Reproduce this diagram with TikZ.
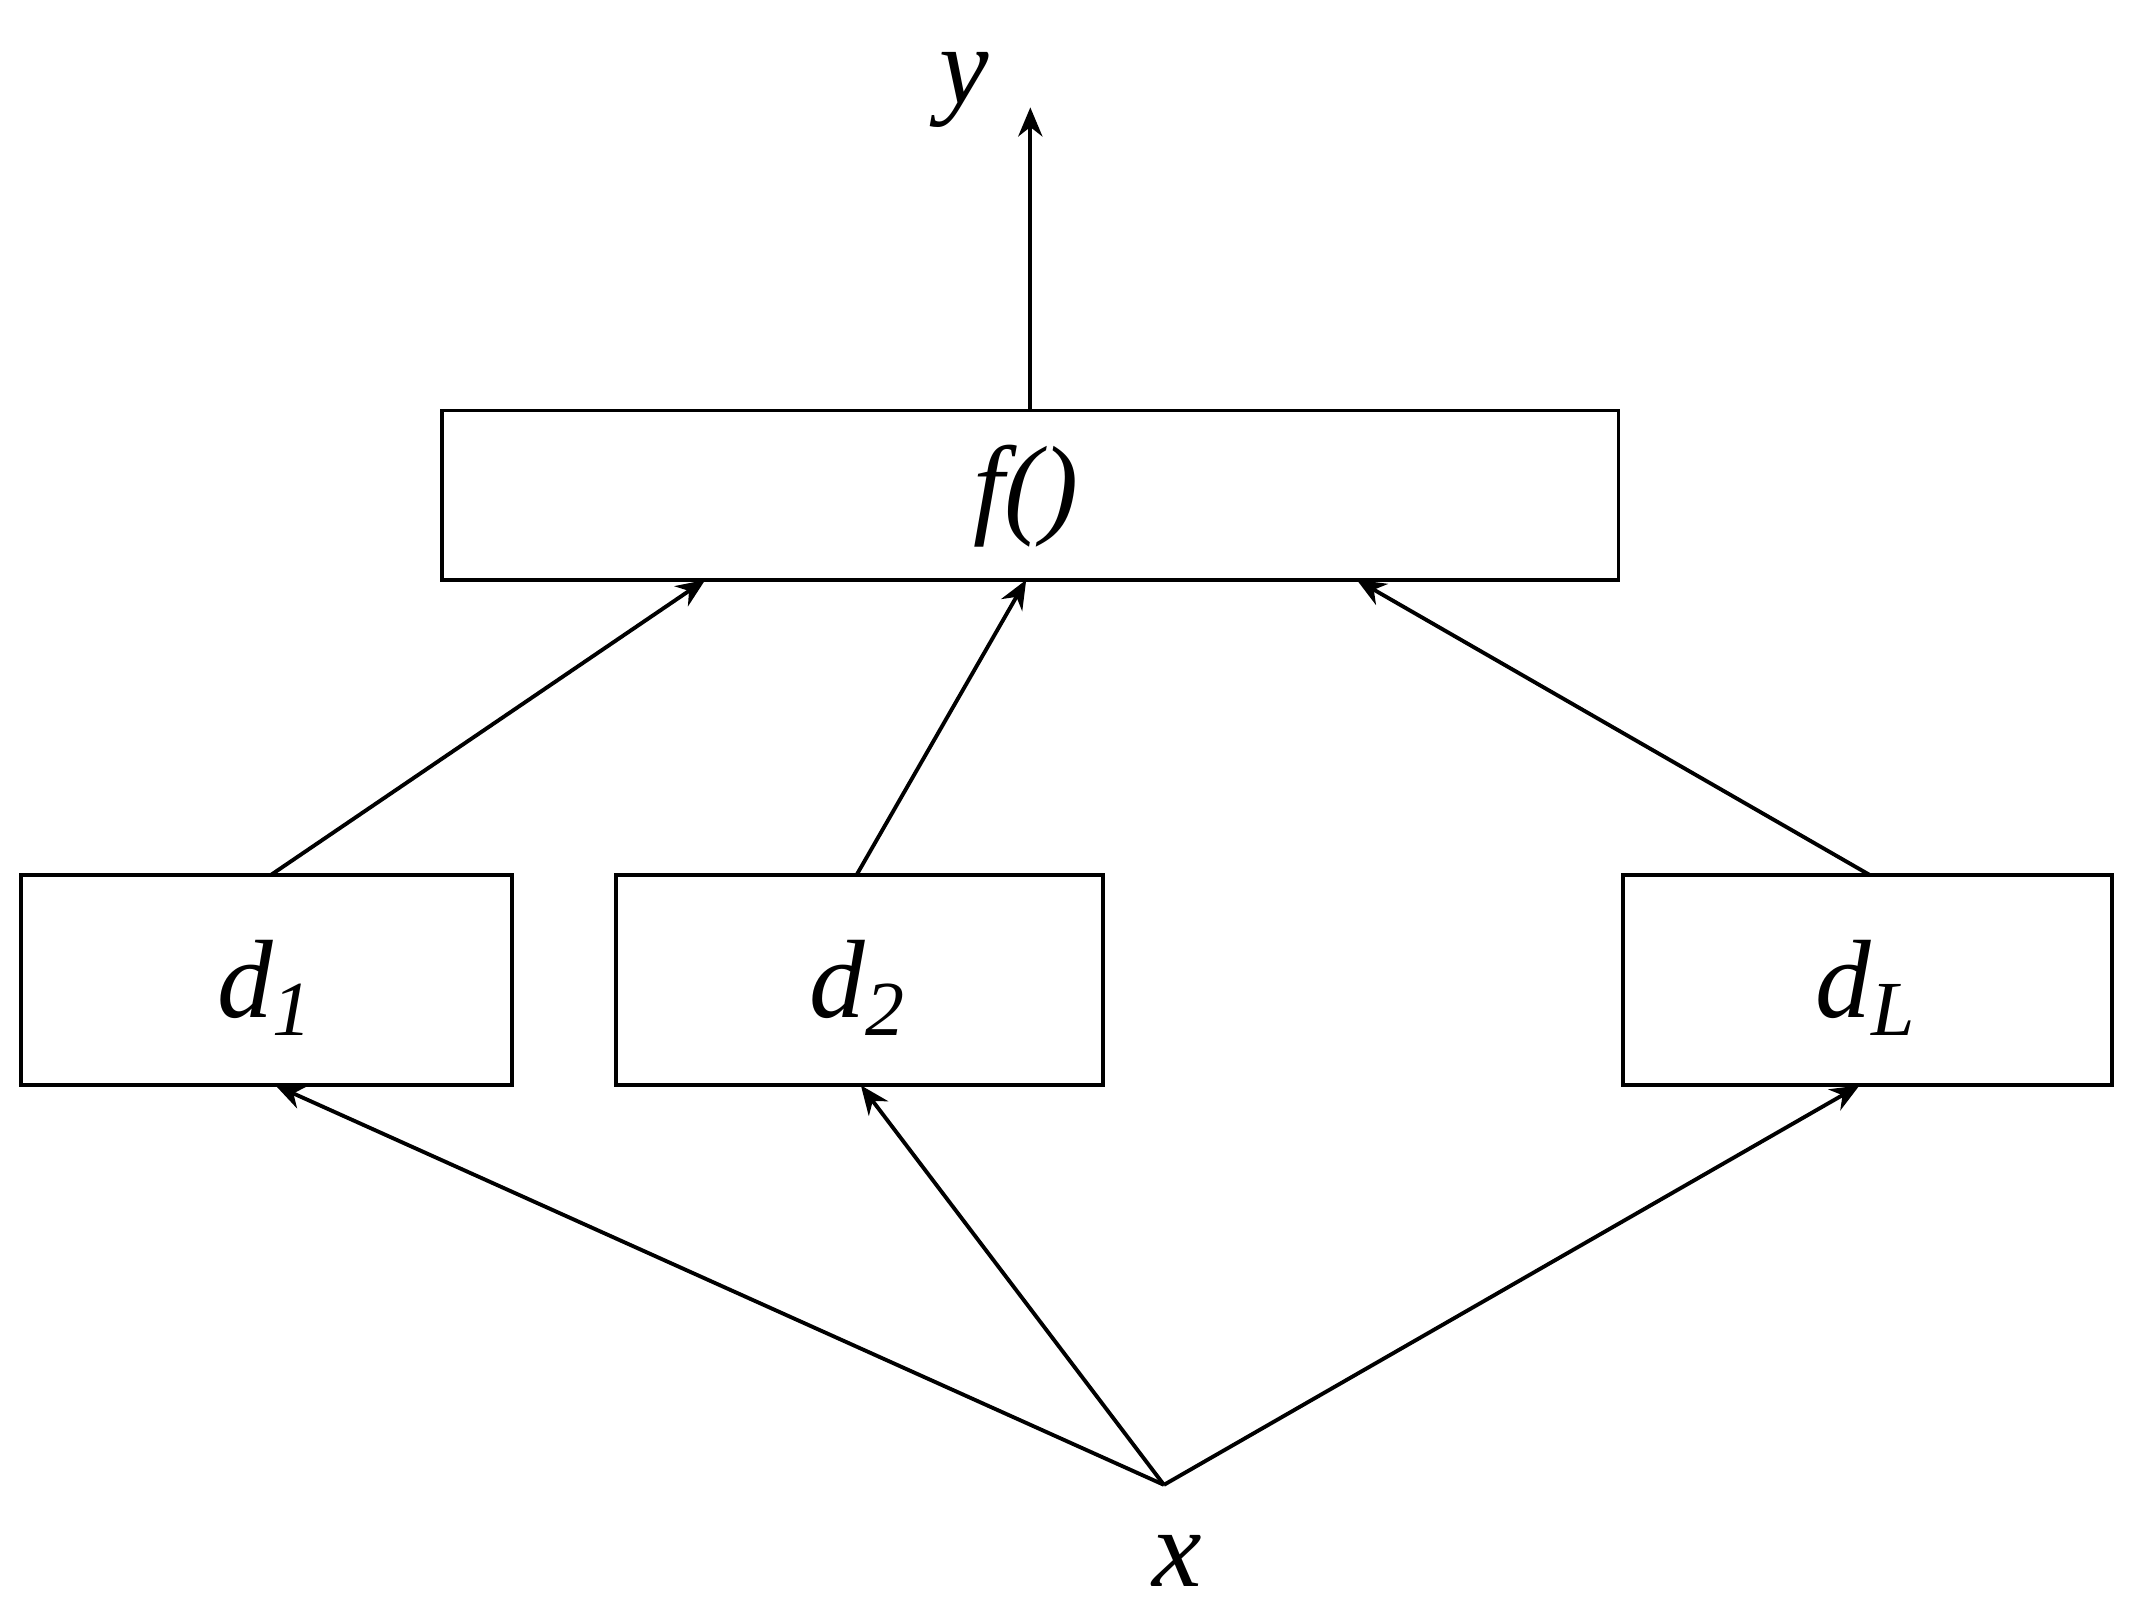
\documentclass[tikz,border=0pt]{standalone}
\usepackage{fontspec}
\setmainfont{Liberation Serif}
\usetikzlibrary{arrows.meta}
\begin{document}
\begin{tikzpicture}[
  lw/.style={line width=0.8pt},
  box/.style={draw,lw,fill=white},
  arr/.style={lw,-{Stealth[length=6pt,width=5pt]}},
  lbl/.style={font=\fontsize{23}{27}\selectfont\itshape}]
\useasboundingbox (0,0) rectangle (15.5,11.75);
\draw[box] (3.21,7.54) rectangle (11.75,8.77);
\node[lbl] (f) at (7.45,8.15) {f()};
\draw[box] (0.15,3.87) rectangle (3.72,5.40);
\node[lbl] (d1) at (1.93,4.58) {d\textsubscript{1}};
\draw[box] (4.47,3.87) rectangle (8.01,5.40);
\node[lbl] (d2) at (6.23,4.58) {d\textsubscript{2}};
\draw[box] (11.78,3.87) rectangle (15.33,5.40);
\node[lbl] (dL) at (13.55,4.58) {d\textsubscript{L}};
\coordinate (x) at (8.45,0.97);
\node[lbl] (xl) at (8.55,0.42) {x};
\node[lbl] (yl) at (7.0,11.1) {y};
\draw[arr] (7.48,8.77) -- (7.48,10.97);
\draw[arr] (1.97,5.40) -- (5.12,7.54);
\draw[arr] (6.22,5.40) -- (7.45,7.54);
\draw[arr] (13.57,5.40) -- (9.85,7.54);
\draw[arr] (x) -- (2.00,3.87);
\draw[arr] (x) -- (6.25,3.87);
\draw[arr] (x) -- (13.50,3.87);
\end{tikzpicture}
\end{document}
